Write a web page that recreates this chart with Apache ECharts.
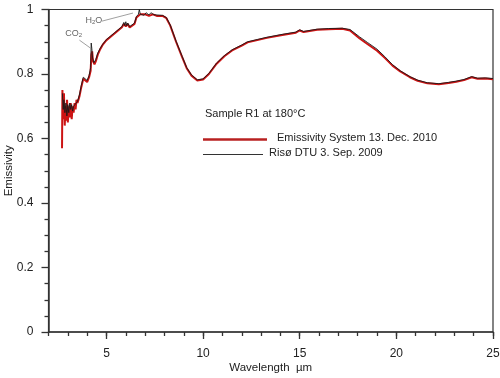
<!DOCTYPE html>
<html><head><meta charset="utf-8">
<script src="https://cdn.jsdelivr.net/npm/echarts@6/dist/echarts.min.js"></script>
<style>html,body{margin:0;padding:0;background:#fff}#c{width:500px;height:378px}</style>
</head><body><div id="c"></div>
<script>
// Wavelength (µm) and emissivity
var redWl = [2.70,2.72,2.76,2.80,2.84,2.88,2.92,2.96,3.00,3.05,3.10,3.15,3.20,3.25,3.30,3.35,3.40,3.45,3.50,3.60,3.70,3.80,3.90,4.00,4.10,4.18,4.22,4.26,4.30,4.38,4.45,4.55,4.66,4.80,5.00,5.20,5.40,5.60,5.80,5.90,6.00,6.10,6.20,6.30,6.45,6.55,6.65,6.75,6.85,7.00,7.20,7.40,7.60,7.90,8.10,8.30,8.60,8.90,9.15,9.40,9.70,10.0,10.3,10.7,11.1,11.5,12.0,12.3,12.8,13.3,14.1,14.8,15.0,15.2,15.9,16.5,17.2,17.6,18.1,18.5,19.0,19.4,19.8,20.2,20.7,21.1,21.6,22.2,22.7,23.1,23.5,23.9,24.2,24.6,25.0];
var redVal = [0.57,0.75,0.66,0.74,0.64,0.70,0.655,0.72,0.65,0.70,0.665,0.71,0.66,0.70,0.68,0.71,0.69,0.72,0.71,0.73,0.76,0.785,0.78,0.775,0.79,0.81,0.86,0.87,0.84,0.83,0.84,0.86,0.875,0.89,0.905,0.915,0.925,0.935,0.945,0.955,0.948,0.955,0.944,0.945,0.955,0.975,0.98,0.985,0.98,0.985,0.98,0.985,0.98,0.98,0.973,0.95,0.90,0.855,0.818,0.795,0.78,0.783,0.80,0.832,0.855,0.873,0.888,0.898,0.905,0.912,0.921,0.928,0.935,0.93,0.937,0.939,0.94,0.935,0.91,0.893,0.872,0.85,0.826,0.808,0.79,0.779,0.771,0.768,0.772,0.776,0.781,0.79,0.785,0.786,0.784];
var blackWl = [2.72,2.76,2.80,2.85,2.90,2.95,3.00,3.05,3.10,3.15,3.20,3.25,3.30,3.40,3.50,3.60,3.70,3.80,3.90,4.00,4.10,4.18,4.21,4.24,4.28,4.35,4.45,4.55,4.66,4.80,5.00,5.20,5.40,5.60,5.80,5.90,5.95,6.00,6.05,6.10,6.20,6.30,6.45,6.55,6.65,6.70,6.75,6.85,6.95,7.05,7.20,7.30,7.45,7.60,7.90,8.10,8.30,8.60,8.90,9.15,9.40,9.70,10.0,10.3,10.7,11.1,11.5,12.0,12.3,12.8,13.3,14.1,14.8,15.0,15.2,15.9,16.5,17.2,17.6,18.1,18.5,19.0,19.4,19.8,20.2,20.7,21.1,21.6,22.2,22.7,23.1,23.5,23.9,24.2,24.6,25.0];
var blackVal = [0.74,0.69,0.72,0.68,0.71,0.67,0.705,0.68,0.71,0.69,0.705,0.685,0.70,0.70,0.715,0.735,0.765,0.79,0.785,0.78,0.795,0.82,0.896,0.88,0.85,0.835,0.845,0.865,0.878,0.892,0.907,0.917,0.927,0.937,0.947,0.96,0.95,0.962,0.95,0.958,0.947,0.948,0.958,0.978,0.985,1.0,0.985,0.99,0.982,0.99,0.983,0.99,0.984,0.983,0.982,0.975,0.952,0.902,0.857,0.82,0.797,0.782,0.785,0.802,0.834,0.857,0.875,0.89,0.9,0.907,0.914,0.923,0.93,0.937,0.932,0.939,0.941,0.942,0.938,0.915,0.898,0.877,0.854,0.829,0.81,0.792,0.781,0.773,0.77,0.774,0.778,0.783,0.792,0.787,0.788,0.786];
var xLabels = [5,10,15,20,25];
var yMin = 0, yMax = 1, yInterval = 0.2;
var xMin = 2, xMax = 25;

function pairs(a,b){return a.map(function(v,i){return [v,b[i]];});}
var FONT = '"Liberation Sans", Arial, sans-serif';
var AX = '#333';
var chart = echarts.init(document.getElementById('c'));
chart.setOption({
  animation:false,
  backgroundColor:'#fff',
  textStyle:{fontFamily:FONT},
  grid:{left:48.5,right:7,top:9.5,bottom:46,containLabel:false,outerBoundsMode:'none',show:true,borderColor:AX,borderWidth:1.2,backgroundColor:'transparent'},
  xAxis:[{
    type:'value',min:xMin,max:xMax,
    name:'Wavelength  µm',nameLocation:'middle',nameGap:30,nameMoveOverlap:false,
    nameTextStyle:{fontSize:11.5,color:'#222',fontFamily:FONT},
    axisLine:{show:true,lineStyle:{color:AX,width:1.5}},
    axisTick:{show:true,inside:false,length:7,customValues:xLabels,lineStyle:{color:AX,width:1.3}},
    axisLabel:{customValues:xLabels,margin:16,fontSize:12,color:'#222',fontFamily:FONT},
    splitLine:{show:false}
  },{
    type:'value',min:xMin,max:xMax,interval:1,position:'bottom',gridIndex:0,
    axisLine:{show:false},
    axisTick:{show:true,inside:false,length:4,lineStyle:{color:AX,width:1.3}},
    axisLabel:{show:false},splitLine:{show:false}
  }],
  yAxis:{
    type:'value',min:yMin,max:yMax,interval:yInterval,
    name:'Emissivity',nameLocation:'middle',nameGap:34,nameMoveOverlap:false,
    nameTextStyle:{fontSize:11.5,color:'#222',fontFamily:FONT},
    axisLine:{show:true,lineStyle:{color:AX,width:1.5}},
    axisTick:{show:true,inside:false,length:7,lineStyle:{color:AX,width:1.3}},
    minorTick:{show:true,splitNumber:4,length:4,lineStyle:{color:AX,width:1.3}},
    axisLabel:{margin:15,fontSize:12,color:'#222',fontFamily:FONT},
    splitLine:{show:false}
  },
  series:[{
    type:'line',name:'Emissivity System 13. Dec. 2010',data:pairs(redWl,redVal),
    showSymbol:false,symbol:'none',lineStyle:{color:'#cc1414',width:2},z:2
  },{
    type:'line',name:'Risø DTU 3. Sep. 2009',data:pairs(blackWl,blackVal),
    showSymbol:false,symbol:'none',lineStyle:{color:'#1a1a1a',width:0.9},z:3,
    markLine:{silent:true,symbol:['none','none'],label:{show:false},animation:false,
      lineStyle:{color:'#888',width:0.8,type:'solid'},
      data:[
        [{coord:[4.77,0.964]},{coord:[6.37,0.989]}],
        [{coord:[3.6,0.905]},{coord:[4.18,0.88]}]
      ]},
    markPoint:{silent:true,symbol:'circle',symbolSize:0,
      data:[
        {coord:[4.35,0.965],label:{show:true,formatter:'H{s|2}O',color:'#666',fontSize:9,fontFamily:FONT,rich:{s:{fontSize:6,color:'#666',padding:[4,0,0,0]}}}},
        {coord:[3.3,0.925],label:{show:true,formatter:'CO{s|2}',color:'#666',fontSize:9,fontFamily:FONT,rich:{s:{fontSize:6,color:'#666',padding:[4,0,0,0]}}}}
      ]}
  }],
  graphic:[
    {type:'text',left:205,top:108,style:{text:'Sample R1 at 180\u00b0C',fontSize:11,fill:'#222',fontFamily:FONT}},
    {type:'line',shape:{x1:203,y1:139.5,x2:267,y2:139.5},style:{stroke:'#b82020',lineWidth:2.5}},
    {type:'text',left:277,top:132.5,style:{text:'Emissivity System 13. Dec. 2010',fontSize:11,fill:'#222',fontFamily:FONT}},
    {type:'line',shape:{x1:203,y1:154.5,x2:263,y2:154.5},style:{stroke:'#333',lineWidth:1}},
    {type:'text',left:269,top:147.5,style:{text:'Ris\u00f8 DTU 3. Sep. 2009',fontSize:11,fill:'#222',fontFamily:FONT}}
  ]
});
</script></body></html>
